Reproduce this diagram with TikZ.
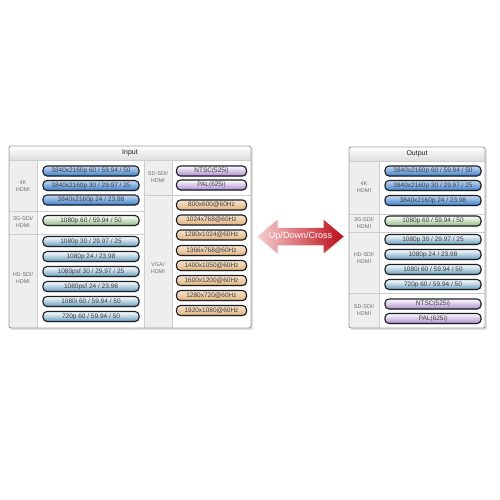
\documentclass[tikz,border=0pt]{standalone}
\usepackage{fontspec}
\setmainfont{Liberation Sans}
\usetikzlibrary{positioning,shapes.arrows,shadows}
\definecolor{ink}{RGB}{28,30,38}
\definecolor{txt}{RGB}{62,62,66}
\definecolor{lbltxt}{RGB}{112,112,116}
\definecolor{frame}{RGB}{158,158,160}
\definecolor{rule}{RGB}{205,205,207}
\definecolor{side}{RGB}{238,238,239}
\definecolor{kblue}{RGB}{62,128,204}
\definecolor{ggreen}{RGB}{146,188,132}
\definecolor{hblue}{RGB}{104,158,190}
\definecolor{spurp}{RGB}{172,142,206}
\definecolor{vtan}{RGB}{226,178,122}
\definecolor{adark}{RGB}{188,12,24}
\definecolor{alight}{RGB}{246,206,206}
\tikzset{
  pill/.style={draw=ink, line width=1.1pt, rounded corners=4pt, minimum height=10pt,
               inner sep=0pt, text=txt, font=\fontsize{6.5}{7}\selectfont,
               drop shadow={opacity=0.25, shadow xshift=0.8pt, shadow yshift=-0.8pt}},
  kpill/.style={pill, minimum width=96pt, top color=kblue!30!white, bottom color=kblue},
  gpill/.style={pill, minimum width=96pt, top color=white, bottom color=ggreen},
  hpill/.style={pill, minimum width=96pt, top color=white, bottom color=hblue},
  spill/.style={pill, top color=white, bottom color=spurp},
  vpill/.style={pill, minimum width=70pt, top color=vtan!35!white, bottom color=vtan},
  lbl/.style={align=center, text=lbltxt, font=\fontsize{5.5}{6.5}\selectfont},
  head/.style={text=ink, font=\fontsize{7}{8}\selectfont},
  rule/.style={draw=rule, line width=0.6pt},
  panel/.style={draw=frame, line width=0.9pt, rounded corners=2pt},
}

\begin{document}
\begin{tikzpicture}[x=1pt, y=-1pt]
  \useasboundingbox (0,0) rectangle (500,500);

  % input panel
  \fill[black, opacity=0.12] (11,148) rectangle (253,330);
  \fill[white] (9,146) rectangle (251,328);
  \shade[top color=white, bottom color=side!85!gray] (9,146) rectangle (251,160);
  \fill[side] (9,160) rectangle (37,328);
  \fill[side] (144,160) rectangle (172,328);
  \draw[rule] (9,160) -- (251,160);
  \draw[rule] (37,160) -- (37,328);
  \draw[rule] (144,160) -- (144,328);
  \draw[rule] (172,160) -- (172,328);
  \draw[rule] (9,211) -- (144,211);
  \draw[rule] (9,234) -- (144,234);
  \draw[rule] (144,195) -- (251,195);
  \draw[panel] (9,146) rectangle (251,328);
  \node[head] (inhead) at (130,153) {Input};

  \node[lbl] (in4k) at (23,186) {4K\\HDMI};
  \node[lbl] (in3g) at (23,222) {3G-SDI/\\HDMI};
  \node[lbl] (inhd) at (23,278) {HD-SDI/\\HDMI};
  \node[lbl] (insd) at (158,177) {SD-SDI/\\HDMI};
  \node[lbl] (invga) at (158,268) {VGA/\\HDMI};

  \node[kpill] (ik1) at (91,171)   {3840x2160p 60 / 59.94 / 50};
  \node[kpill] (ik2) at (91,185.5) {3840x2160p 30 / 29.97 / 25};
  \node[kpill] (ik3) at (91,200)   {3840x2160p 24 / 23.98};
  \node[gpill] (ig1) at (91,220.5) {1080p 60 / 59.94 / 50};
  \node[hpill] (ih1) at (91,241.5) {1080p 30 / 29.97 / 25};
  \node[hpill] (ih2) at (91,256.5) {1080p 24 / 23.98};
  \node[hpill] (ih3) at (91,271.5) {1080psf 30 / 29.97 / 25};
  \node[hpill] (ih4) at (91,286.5) {1080psf 24 / 23.98};
  \node[hpill] (ih5) at (91,301.5) {1080i 60 / 59.94 / 50};
  \node[hpill] (ih6) at (91,316.5) {720p 60 / 59.94 / 50};

  \node[spill, minimum width=70pt] (is1) at (211.5,171) {NTSC(525i)};
  \node[spill, minimum width=70pt] (is2) at (211.5,185) {PAL(625i)};
  \node[vpill] (iv1) at (211.5,205)   {800x600@60Hz};
  \node[vpill] (iv2) at (211.5,220)   {1024x768@60Hz};
  \node[vpill] (iv3) at (211.5,235)   {1280x1024@60Hz};
  \node[vpill] (iv4) at (211.5,250.5) {1366x768@60Hz};
  \node[vpill] (iv5) at (211.5,265.5) {1400x1050@60Hz};
  \node[vpill] (iv6) at (211.5,280.5) {1600x1200@60Hz};
  \node[vpill] (iv7) at (211.5,295.5) {1280x720@60Hz};
  \node[vpill] (iv8) at (211.5,310.5) {1920x1080@60Hz};

  % conversion arrow
  \node[double arrow, double arrow head extend=8pt, double arrow tip angle=80,
        minimum height=85pt, minimum width=33pt, inner xsep=1pt, inner ysep=4.25pt,
        text height=6.5pt, text depth=2pt, left color=alight, right color=adark,
        text=white, font=\fontsize{9}{10}\selectfont,
        drop shadow={opacity=0.2, shadow xshift=1pt, shadow yshift=-1pt}]
    (conv) at (300.5,236.5) {Up/Down/Cross};

  % output panel
  \fill[black, opacity=0.12] (351,149) rectangle (487,330);
  \fill[white] (349,147) rectangle (485,328);
  \shade[top color=white, bottom color=side!85!gray] (349,147) rectangle (485,161);
  \fill[side] (349,161) rectangle (379,328);
  \draw[rule] (349,161) -- (485,161);
  \draw[rule] (379,161) -- (379,328);
  \draw[rule] (349,214) -- (485,214);
  \draw[rule] (349,232) -- (485,232);
  \draw[rule] (349,293) -- (485,293);
  \draw[panel] (349,147) rectangle (485,328);
  \node[head] (outhead) at (417,154) {Output};

  \node[lbl] (out4k) at (364,187) {4K\\HDMI};
  \node[lbl] (out3g) at (364,223) {3G-SDI/\\HDMI};
  \node[lbl] (outhd) at (364,258) {HD-SDI/\\HDMI};
  \node[lbl] (outsd) at (364,310) {SD-SDI/\\HDMI};

  \node[kpill] (ok1) at (433,171)   {3840x2160p 60 / 59.94 / 50};
  \node[kpill] (ok2) at (433,185.5) {3840x2160p 30 / 29.97 / 25};
  \node[kpill] (ok3) at (433,200.5) {3840x2160p 24 / 23.98};
  \node[gpill] (og1) at (433,221)   {1080p 60 / 59.94 / 50};
  \node[hpill] (oh1) at (433,239.5) {1080p 30 / 29.97 / 25};
  \node[hpill] (oh2) at (433,254.5) {1080p 24 / 23.98};
  \node[hpill] (oh3) at (433,269.5) {1080i 60 / 59.94 / 50};
  \node[hpill] (oh4) at (433,284.5) {720p 60 / 59.94 / 50};
  \node[spill, minimum width=96pt] (os1) at (433,304)   {NTSC(525i)};
  \node[spill, minimum width=96pt] (os2) at (433,318.5) {PAL(625i)};
\end{tikzpicture}
\end{document}
